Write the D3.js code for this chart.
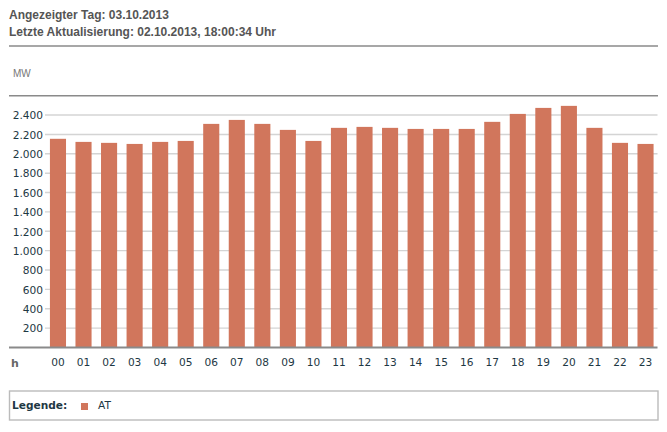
<!DOCTYPE html>
<html><head><meta charset="utf-8">
<script src="https://cdn.jsdelivr.net/npm/d3@7"></script>
<style>
html,body{margin:0;padding:0;background:#fff;}
svg{display:block;}
</style></head>
<body>
<script>
const hours = ["00","01","02","03","04","05","06","07","08","09","10","11","12","13","14","15","16","17","18","19","20","21","22","23"];
const valuesAT = [2155,2123,2113,2102,2123,2133,2309,2350,2309,2247,2133,2268,2278,2268,2257,2257,2257,2330,2412,2474,2495,2268,2113,2102];
const yTicks = [200,400,600,800,1000,1200,1400,1600,1800,2000,2200,2400];
const titleLines = ["Angezeigter Tag: 03.10.2013","Letzte Aktualisierung: 02.10.2013, 18:00:34 Uhr"];
const unitLabel = "MW";
const xAxisLabel = "h";
const legendTitle = "Legende:";
const seriesName = "AT";

const W = 667, H = 432;
const barColor = "#d1765c";
const textDark = "#1e3844";
const svg = d3.select("body").append("svg").attr("width", W).attr("height", H);

// header
svg.selectAll("text.title").data(titleLines).join("text")
  .attr("x", 9).attr("y", (d,i)=>18.5 + i*17)
  .attr("font-family","Arial, 'Liberation Sans', sans-serif")
  .attr("font-size", 12).attr("font-weight","bold").attr("fill","#555")
  .text(d=>d);
svg.append("line").attr("x1",9).attr("x2",658).attr("y1",46).attr("y2",46)
  .attr("stroke","#8a8a8a").attr("stroke-width",1.5);
svg.append("text").attr("x",13).attr("y",77)
  .attr("font-family","Arial, 'Liberation Sans', sans-serif")
  .attr("font-size",10).attr("fill","#777").text(unitLabel);

const x = d3.scaleBand().domain(hours).range([45.2, 658.3]).paddingInner(0.37).paddingOuter(0.185);
const y = d3.scaleLinear().domain([0, 2600]).range([347.5, 95.7]);

// grid
svg.append("g").selectAll("line").data(yTicks).join("line")
  .attr("x1",45).attr("x2",657.5)
  .attr("y1",d=>y(d)).attr("y2",d=>y(d))
  .attr("stroke","#d4d4d4").attr("stroke-width",1.4);

// top line
svg.append("line").attr("x1",9).attr("x2",658).attr("y1",y(2600)).attr("y2",y(2600))
  .attr("stroke","#8a8a8a").attr("stroke-width",1.5);

// bars
svg.append("g").selectAll("rect").data(valuesAT).join("rect")
  .attr("x",(d,i)=>x(hours[i])).attr("width",x.bandwidth())
  .attr("y",d=>y(d)).attr("height",d=>y(0)-y(d))
  .attr("fill",barColor);

// baseline
svg.append("line").attr("x1",9).attr("x2",657.5).attr("y1",y(0)).attr("y2",y(0))
  .attr("stroke","#8a8a8a").attr("stroke-width",2.2);

// y axis labels
const yAxis = d3.axisLeft(y).tickValues(yTicks).tickSize(0).tickPadding(0)
  .tickFormat(d=>d3.format(",")(d).replace(/,/g,"."));
const gy = svg.append("g").attr("transform","translate(43,0)").call(yAxis);
gy.select(".domain").remove();
gy.selectAll("text").attr("font-family","Verdana, 'DejaVu Sans', sans-serif")
  .attr("font-size",10.6).attr("fill",textDark).attr("dy","0.35em");

// x axis labels
const xAxis = d3.axisBottom(x).tickSize(0).tickPadding(0);
const gx = svg.append("g").attr("transform","translate(0,358)").call(xAxis);
gx.select(".domain").remove();
gx.selectAll("text").attr("font-family","Verdana, 'DejaVu Sans', sans-serif")
  .attr("font-size",10.6).attr("fill",textDark).attr("dy","0.71em");

svg.append("text").attr("x",11).attr("y",367)
  .attr("font-family","Verdana, 'DejaVu Sans', sans-serif")
  .attr("font-size",11).attr("font-weight","bold").attr("fill","#666").text(xAxisLabel);

// legend
svg.append("rect").attr("x",9.5).attr("y",391).attr("width",648.5).attr("height",29)
  .attr("fill","#fff").attr("stroke","#bbb").attr("stroke-width",1.4);
svg.append("text").attr("x",12).attr("y",409)
  .attr("font-family","Verdana, 'DejaVu Sans', sans-serif")
  .attr("font-size",10.6).attr("font-weight","bold").attr("fill",textDark).text(legendTitle);
svg.append("rect").attr("x",81).attr("y",403).attr("width",7).attr("height",7).attr("fill",barColor);
svg.append("text").attr("x",98).attr("y",409)
  .attr("font-family","Verdana, 'DejaVu Sans', sans-serif")
  .attr("font-size",10.6).attr("fill",textDark).text(seriesName);
</script>
</body></html>
